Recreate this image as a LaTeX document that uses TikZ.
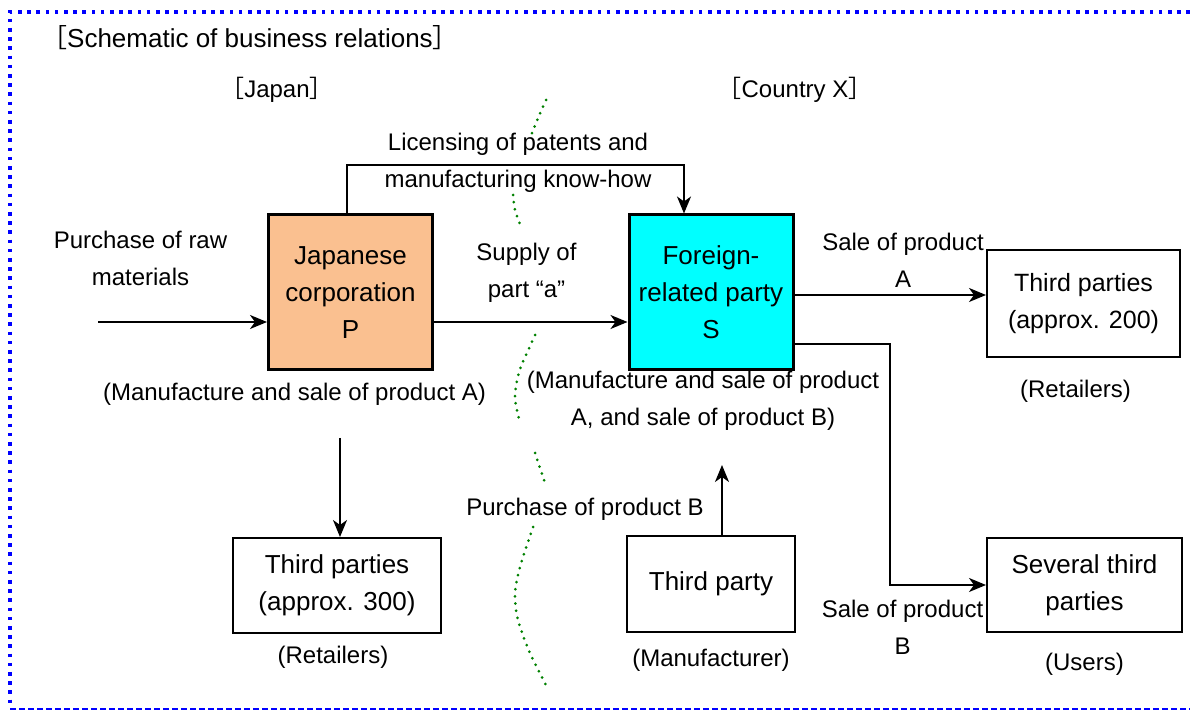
\documentclass[tikz,border=0pt]{standalone}
\usepackage{fontspec}
\setmainfont{Liberation Sans}
\newfontfamily\cjk{Noto Sans CJK JP}
\usetikzlibrary{positioning,arrows.meta}
\definecolor{peach}{RGB}{250,192,144}
\definecolor{aqua}{RGB}{0,255,255}
\definecolor{borderblue}{RGB}{0,0,255}
\definecolor{linegreen}{RGB}{0,128,0}
\newcommand{\lbr}{{\cjk ［}}
\newcommand{\rbr}{{\cjk ］}}
\tikzstyle{edge} = [draw,line width=1pt,-{Stealth[length=8.5pt,width=7pt,inset=2.5pt]}]
\tikzstyle{party} = [draw,line width=1pt,inner sep=0pt,align=center,font=\fontsize{13}{18.5}\selectfont]
\tikzstyle{company} = [party,line width=1.5pt,minimum width=82pt,minimum height=77.5pt]
\tikzstyle{note} = [inner sep=0pt,align=center,font=\fontsize{12}{18.5}\selectfont]
\tikzstyle{border} = [draw=borderblue]
\tikzstyle{frontier} = [draw=linegreen,line width=1.5pt,line cap=round,dash pattern=on 0pt off 3.6pt]

\begin{document}
\begin{tikzpicture}[x=0.5pt,y=-0.5pt,on grid]
   \useasboundingbox (0,0) rectangle (1190,711);

   \draw[border,line width=1.8pt,dash pattern=on 1.8pt off 2.8pt] (1190,12) -- (10,12) -- (10,708);
   \draw[border,line width=0.75pt,dash pattern=on 3pt off 1.5pt] (10,709) -- (1190,709);

   \draw[frontier] plot[smooth] coordinates {(546,100) (538,118) (530,138)};
   \draw[frontier] plot[smooth] coordinates {(513,195) (515,210) (521,227)};
   \draw[frontier] plot[smooth] coordinates {(535,335) (527,353) (519,372) (515,397) (520,423)};
   \draw[frontier] plot[smooth] coordinates {(535,453) (545,483)};
   \draw[frontier] plot[smooth] coordinates {(533,527) (520,567) (515,593) (518,620) (530,653) (547,687)};

   \node[note,font=\fontsize{13}{18.5}\selectfont] (title) at (250,38) {\lbr Schematic of business relations\rbr};
   \node[note] (japan) at (277,90) {\lbr Japan\rbr};
   \node[note] (countryx) at (795,90) {\lbr Country X\rbr};

   \node[company,fill=peach] (P) at (350.5,292.5) {Japanese\\corporation\\P};
   \node[company,fill=aqua] (S) at (711,292.5) {Foreign-\\related party\\S};
   \node[party,minimum width=96.5pt,minimum height=53.5pt,font=\fontsize{12.5}{18.5}\selectfont] (thA) at (1083.5,303.5) {Third parties\\(approx. 200)};
   \node[party,minimum width=97.5pt,minimum height=47pt] (sev) at (1084.5,585) {Several third\\parties};
   \node[party,minimum width=84pt,minimum height=48pt] (tp) at (711,584) {Third party};
   \node[party,minimum width=104pt,minimum height=47.5pt] (thP) at (337,585.5) {Third parties\\(approx. 300)};

   \node[note] (raw) [above left=17pt and 105pt of P] {Purchase of raw\\materials};
   \node[note] (supply) [above right=10pt and 88pt of P] {Supply of\\part “a”};
   \node[note] (makeP) [below left=51pt and 28pt of P] {(Manufacture and sale of product A)};
   \node[note] (makeS) [below left=54pt and 4pt of S] {(Manufacture and sale of product\\A, and sale of product B)};
   \node[note] (licence) [above left=65pt and 96.5pt of S] {Licensing of patents and\\manufacturing know-how};
   \node[note] (saleA) [above right=16pt and 96pt of S] {Sale of product\\A};
   \node[note] (saleB) [below left=21pt and 91pt of sev] {Sale of product\\B};
   \node[note] (retA) [below left=44pt and 4pt of thA] {(Retailers)};
   \node[note] (users) [below=39.5pt of sev] {(Users)};
   \node[note] (maker) [below=38pt of tp] {(Manufacturer)};
   \node[note] (retP) [below left=36pt and 2pt of thP] {(Retailers)};
   \node[note] (buyB) [above left=37.5pt and 63pt of tp] {Purchase of product B};

   \coordinate (in) at (98,322);
   \coordinate (licstart) at (347,165);
   \coordinate (licend) at (684,165);
   \coordinate (outA) at (795,295);
   \coordinate (bend) at (890,344);
   \coordinate (down) at (340,438);
   \coordinate (up) at (722,465);

   \path[edge] (in) -- (in -| P.west);
   \path[edge] (in -| P.east) -- (in -| S.west);
   \path[edge] (licstart |- P.north) -- (licstart) -- (licend) -- (licend |- S.north);
   \path[edge] (outA -| S.east) -- (outA -| thA.west);
   \path[edge] (bend -| S.east) -- (bend) |- (sev.west);
   \path[edge] (down) -- (down |- thP.north);
   \path[edge] (up |- tp.north) -- (up);

\end{tikzpicture}
\end{document}
